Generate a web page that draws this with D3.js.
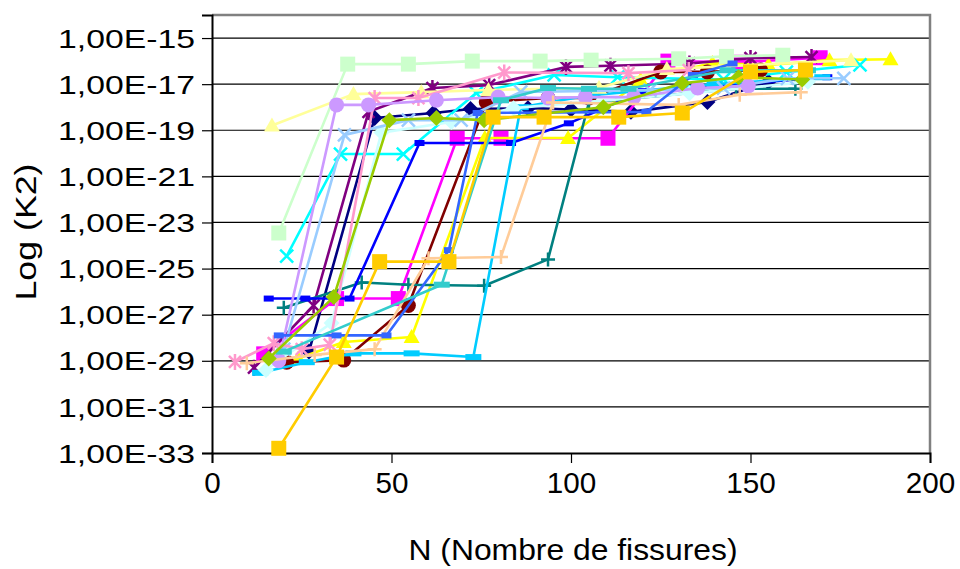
<!DOCTYPE html>
<html>
<head>
<meta charset="utf-8">
<script src="https://d3js.org/d3.v7.min.js"></script>
<style>
  html, body { margin: 0; padding: 0; background: #fff; }
  text { font-family: "Liberation Sans", Arial, sans-serif; fill: #000; }
</style>
</head>
<body>
<svg id="chart" width="960" height="569"></svg>
<script>
// ---- data (N = number of cracks, K2 values) ----
const yTicks = [1e-15, 1e-17, 1e-19, 1e-21, 1e-23, 1e-25, 1e-27, 1e-29, 1e-31, 1e-33];
const yTickLabels = ["1,00E-15","1,00E-17","1,00E-19","1,00E-21","1,00E-23","1,00E-25","1,00E-27","1,00E-29","1,00E-31","1,00E-33"];
const xTicks = [0, 50, 100, 150, 200];
const xTickLabels = ["0", "50", "100", "150", "200"];

const seriesColors = ["#000080","#FF00FF","#FFFF00","#00FFFF","#800080","#800000","#008080","#0000FF","#00CCFF","#CCFFFF",
                      "#CCFFCC","#FFFF99","#99CCFF","#FF99CC","#CC99FF","#FFCC99","#3366FF","#33CCCC","#99CC00","#FFCC00"];
const seriesMarkers = ["diamond","square","triangle","x","star","circle","plus","dash","longdash","diamond",
                       "square","triangle","x","star","circle","plus","dash","longdash","diamond","square"];

const s1N  = [27, 45.3, 61.7, 72, 88, 100, 116.7, 138, 155];
const s1K  = [2.5e-29, 3.4e-19, 5.6e-19, 8.3e-19, 9.1e-19, 7.9e-19, 6.3e-19, 1.7e-18, 1.26e-17];
const s2N  = [14.4, 34.7, 51.9, 68.3, 80.5, 110.3, 127, 146.7, 169.4];
const s2K  = [2e-29, 5e-27, 5e-27, 4.5e-20, 4.5e-20, 4.5e-20, 1e-16, 8.9e-17, 1.4e-16];
const s3N  = [24, 36.7, 55.6, 76, 99.2, 119.4, 139.4, 155, 172, 189];
const s3K  = [1.26e-29, 6.5e-29, 1.07e-28, 4.6e-20, 4.6e-20, 1.5e-17, 8.3e-17, 6.8e-17, 1.1e-16, 1.2e-16];
const s4N  = [20.8, 35.8, 53.3, 73.6, 95.3, 113, 142.5, 160, 180.5];
const s4K  = [3.5e-25, 9.3e-21, 9.3e-21, 4.1e-18, 2.5e-17, 2e-17, 1.6e-17, 3.3e-17, 6.8e-17];
const s5N  = [11.7, 28.3, 43.6, 61.4, 77.2, 98.6, 111, 133, 150, 167];
const s5K  = [5e-30, 2.5e-27, 6.3e-19, 6.8e-18, 9.1e-18, 5.6e-17, 6.3e-17, 7.9e-17, 1.35e-16, 1.5e-16];
const s6N  = [20.8, 36.7, 54.7, 76.4, 93.6, 105, 125, 138, 152.8];
const s6K  = [8.7e-30, 1.07e-29, 2.5e-27, 1.7e-18, 2.5e-18, 2.5e-18, 3.4e-17, 3.4e-17, 4.1e-17];
const s7N  = [20, 41.7, 54.7, 75.8, 93.6, 105, 146, 162.5];
const s7K  = [2e-27, 2.5e-26, 2e-26, 1.8e-26, 2.5e-25, 1.6e-18, 6.3e-18, 6.3e-18];
const s8N  = [15.8, 26, 38.3, 57.8, 83.3, 99.4, 120, 171.4];
const s8K  = [5e-27, 5e-27, 5e-27, 2.8e-20, 2.8e-20, 2e-19, 5e-18, 2e-17];
const s9N  = [13.4, 26.4, 39.4, 55.6, 72.8, 86, 105, 140, 170];
const s9K  = [3e-30, 8.7e-30, 2.1e-29, 2.1e-29, 1.45e-29, 1e-18, 3.2e-18, 1e-17, 2e-17];
const s10N = [15, 33.3, 47.2, 66.7, 84, 133, 166];
const s10K = [4e-30, 4.4e-28, 7.9e-20, 2.3e-19, 9.1e-19, 4e-18, 1.26e-17];
const s11N = [18.6, 37.8, 54.7, 72.5, 91.4, 105.6, 130, 143.3, 159];
const s11K = [3.5e-24, 7.4e-17, 7.4e-17, 1e-16, 1e-16, 1.1e-16, 1.26e-16, 1.6e-16, 1.8e-16];
const s12N = [16.7, 39.4, 58.3, 77, 107.8, 126.7, 178];
const s12K = [1.6e-19, 3.7e-18, 4.5e-18, 5.6e-18, 7e-18, 4.5e-17, 1.1e-16];
const s13N = [20, 36.9, 54.7, 69.4, 86, 122, 142.5, 160.3, 176];
const s13K = [3.2e-29, 6.3e-20, 2.75e-19, 2.75e-19, 4.6e-18, 5.5e-18, 6.8e-18, 1.8e-17, 1.8e-17];
const s14N = [6.4, 17.2, 25, 32.8, 45.3, 57.5, 81.4, 116, 132.8];
const s14K = [8.9e-30, 5.8e-29, 3.2e-29, 5e-29, 2.5e-18, 2.5e-18, 3.2e-17, 3e-17, 4.1e-17];
const s15N = [18.6, 34.7, 43.6, 62.5, 79.7, 93.6, 104, 117.5, 135.3, 149.4];
const s15K = [1e-29, 1.26e-18, 1.26e-18, 2e-18, 2.75e-18, 2.5e-18, 2.75e-18, 2.75e-18, 6.8e-18, 8.3e-18];
const s16N = [9.7, 28.6, 45.3, 60.3, 80.5, 95, 130, 147, 164];
const s16K = [7.9e-30, 1.8e-29, 3.2e-29, 2.8e-25, 3.2e-25, 1.6e-18, 1.26e-18, 3.5e-18, 4.5e-18];
const s17N = [18.6, 34.7, 48.6, 66, 74, 121, 134, 145];
const s17K = [1.26e-28, 1.26e-28, 1.26e-28, 6.3e-25, 5.6e-19, 6.3e-19, 2.5e-17, 7.9e-17];
const s18N = [20, 64, 80.5, 93.6, 105, 116, 143.6, 166];
const s18K = [2.5e-29, 2e-26, 2e-18, 6.8e-18, 6.3e-18, 6.3e-18, 4e-17, 4e-17];
const s19N = [15.8, 33.9, 49.4, 62.5, 75.8, 109, 131, 146.7, 164.4];
const s19K = [1.26e-29, 5.8e-27, 2.75e-19, 3.4e-19, 2.75e-19, 1e-18, 1.1e-17, 2e-17, 1.6e-17];
const s20N = [18.6, 34.7, 46.7, 66, 78.3, 92.5, 113.3, 131, 150, 165.3];
const s20K = [1.6e-33, 1.45e-29, 2e-25, 2e-25, 3.7e-19, 3.7e-19, 3.7e-19, 5.6e-19, 3.4e-17, 4.1e-17];

const seriesN = [s1N,s2N,s3N,s4N,s5N,s6N,s7N,s8N,s9N,s10N,s11N,s12N,s13N,s14N,s15N,s16N,s17N,s18N,s19N,s20N];
const seriesK = [s1K,s2K,s3K,s4K,s5K,s6K,s7K,s8K,s9K,s10K,s11K,s12K,s13K,s14K,s15K,s16K,s17K,s18K,s19K,s20K];

// ---- layout ----
const plot = { left: 212, right: 930, top: 15, bottom: 453 };
const svg = d3.select("#chart");
svg.append("rect").attr("width", 960).attr("height", 569).attr("fill", "#fff");

const x = d3.scaleLinear().domain([0, 200]).range([plot.left, plot.right]);
const y = d3.scaleLog().domain([1e-33, 1e-14]).range([plot.bottom, plot.top]);

// gridlines
svg.append("g").selectAll("line").data(yTicks.filter(v => v > 1e-33)).join("line")
  .attr("x1", plot.left).attr("x2", plot.right)
  .attr("y1", d => y(d)).attr("y2", d => y(d))
  .attr("stroke", "#000").attr("stroke-width", 1.2);

// border (top/right gray)
svg.append("path")
  .attr("d", `M${plot.left},${plot.top}H${plot.right}V${plot.bottom}`)
  .attr("fill", "none").attr("stroke", "#808080").attr("stroke-width", 2.5);

// axes
const yAxis = d3.axisLeft(y).tickValues(yTicks).tickSize(10).tickFormat((d, i) => yTickLabels[i]);
const gy = svg.append("g").attr("transform", `translate(${plot.left},0)`).call(yAxis);
gy.select(".domain").attr("stroke", "#000").attr("stroke-width", 2);
gy.selectAll(".tick line").attr("stroke", "#000").attr("stroke-width", 1.2);
gy.selectAll(".tick text").attr("x", -17).attr("dy", "0.35em")
  .style("font-family", '"Liberation Sans", Arial, sans-serif')
  .attr("font-size", 26).attr("fill", "#000")
  .attr("textLength", 137).attr("lengthAdjust", "spacingAndGlyphs");

const xAxis = d3.axisBottom(x).tickValues(xTicks).tickSize(10).tickFormat((d, i) => xTickLabels[i]);
const gx = svg.append("g").attr("transform", `translate(0,${plot.bottom})`).call(xAxis);
gx.select(".domain").attr("stroke", "#000").attr("stroke-width", 2);
gx.selectAll(".tick line").attr("stroke", "#000").attr("stroke-width", 1.2);
gx.selectAll(".tick text").attr("y", 40).attr("dy", 0)
  .style("font-family", '"Liberation Sans", Arial, sans-serif')
  .attr("font-size", 29).attr("fill", "#000")
  .attr("textLength", (d, i) => xTickLabels[i].length * 16.5).attr("lengthAdjust", "spacingAndGlyphs");

// titles
svg.append("text").attr("x", 573).attr("y", 560).attr("text-anchor", "middle")
  .attr("font-size", 29).attr("textLength", 329).attr("lengthAdjust", "spacingAndGlyphs")
  .text("N (Nombre de fissures)");
svg.append("text").attr("transform", "translate(36,232) rotate(-90)").attr("text-anchor", "middle")
  .attr("font-size", 29).attr("textLength", 137).attr("lengthAdjust", "spacingAndGlyphs")
  .text("Log (K2)");

// ---- series ----
function drawMarker(g, type, cx, cy, color) {
  switch (type) {
    case "diamond":
      g.append("path").attr("d", `M${cx},${cy-8}L${cx+8},${cy}L${cx},${cy+8}L${cx-8},${cy}Z`).attr("fill", color); break;
    case "square":
      g.append("rect").attr("x", cx-7.5).attr("y", cy-7.5).attr("width", 15).attr("height", 15).attr("fill", color); break;
    case "triangle":
      g.append("path").attr("d", `M${cx},${cy-8}L${cx+8},${cy+6}L${cx-8},${cy+6}Z`).attr("fill", color); break;
    case "circle":
      g.append("circle").attr("cx", cx).attr("cy", cy).attr("r", 7.5).attr("fill", color); break;
    case "x":
      g.append("path").attr("d", `M${cx-6.5},${cy-6.5}L${cx+6.5},${cy+6.5}M${cx-6.5},${cy+6.5}L${cx+6.5},${cy-6.5}`)
        .attr("stroke", color).attr("stroke-width", 2.5).attr("fill", "none"); break;
    case "star":
      g.append("path").attr("d", `M${cx-6},${cy-6}L${cx+6},${cy+6}M${cx-6},${cy+6}L${cx+6},${cy-6}M${cx},${cy-8}L${cx},${cy+8}`)
        .attr("stroke", color).attr("stroke-width", 2.5).attr("fill", "none"); break;
    case "plus":
      g.append("path").attr("d", `M${cx-7},${cy}L${cx+7},${cy}M${cx},${cy-7}L${cx},${cy+7}`)
        .attr("stroke", color).attr("stroke-width", 2.5).attr("fill", "none"); break;
    case "dash":
      g.append("rect").attr("x", cx-5).attr("y", cy-3).attr("width", 10).attr("height", 6).attr("fill", color); break;
    case "longdash":
      g.append("rect").attr("x", cx-8).attr("y", cy-3).attr("width", 16).attr("height", 6).attr("fill", color); break;
  }
}

const line = d3.line().x(d => x(d[0])).y(d => y(d[1]));
seriesN.forEach((ns, i) => {
  const pts = ns.map((n, j) => [n, seriesK[i][j]]);
  const g = svg.append("g");
  g.append("path").attr("d", line(pts)).attr("fill", "none")
    .attr("stroke", seriesColors[i]).attr("stroke-width", 2.6).attr("stroke-linejoin", "round");
  pts.forEach(p => drawMarker(g, seriesMarkers[i], x(p[0]), y(p[1]), seriesColors[i]));
});
</script>
</body>
</html>
